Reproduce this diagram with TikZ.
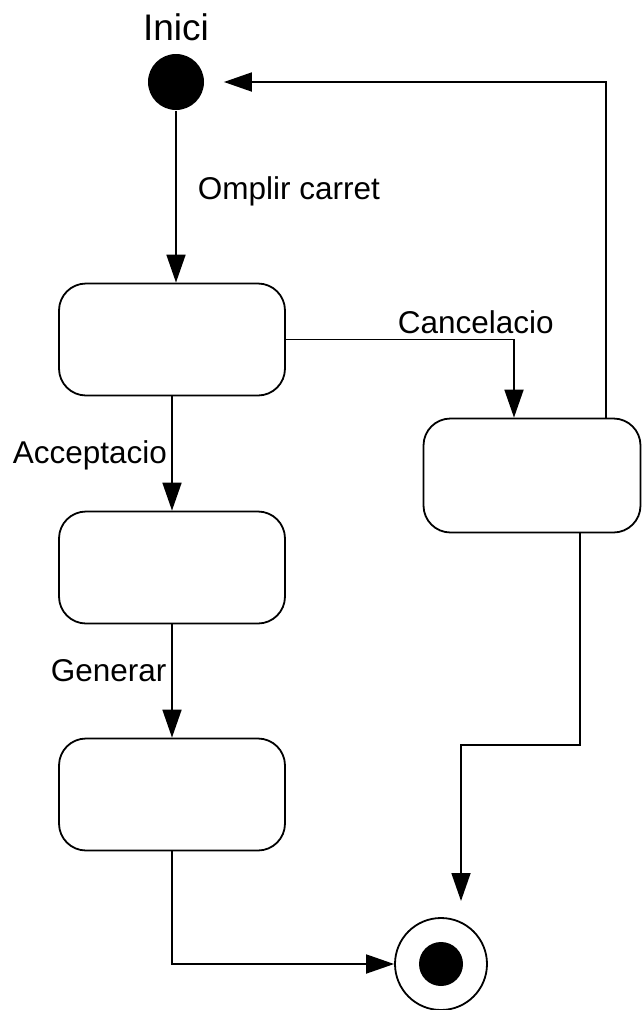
\documentclass[tikz,border=0pt]{standalone}
\usepackage{fontspec}
\setmainfont{Liberation Sans}
\usetikzlibrary{arrows.meta,positioning}

\begin{document}
\begin{tikzpicture}[x=1pt,y=-1pt, line width=1.8pt,
    state/.style={draw, rounded corners=27pt, minimum width=226pt, minimum height=112pt, inner sep=0pt},
    arr/.style={-{Triangle[length=28pt,width=19pt]}},
    lbl/.style={font=\fontsize{31.5}{36}\selectfont, inner sep=0pt, anchor=base west}]
        \useasboundingbox (0,0) rectangle (642,1010);

        % Initial state
        \node[circle, fill, minimum size=56pt, inner sep=0pt] (inici) at (176,82) {};
        \node[inner sep=0pt, anchor=base, font=\fontsize{37}{42}\selectfont] (iniciLbl) at (176,40) {Inici};

        % States
        \node[state] (carret) at (172,339.5) {};
        \node[state] (accept) at (172,567.5) {};
        \node[state] (generar) at (172,794.5) {};
        \node[state, minimum width=217pt, minimum height=114pt] (cancel) at (532,475.5) {};

        % Final state
        \node[circle, draw, minimum size=92pt, inner sep=0pt] (fi) at (441,964) {};
        \node[circle, fill, minimum size=44pt, inner sep=0pt] (fiDot) at (fi) {};

        % Bend points
        \coordinate (cancelTop) at (606,418);
        \coordinate (cancelBot) at (580,533);
        \coordinate (bend) at (461,745);
        \coordinate (fiTip) at (461,901);

        % Transitions
        \draw[arr] (inici) -- (carret.north -| inici);
        \draw[arr] (carret.south) -- (accept.north);
        \draw[arr] (accept.south) -- (generar.north);
        \draw[arr] (carret.east) -| (cancel.north -| 514,0);
        \draw[arr, shorten >=19pt] (cancelTop) |- (inici.east);
        \draw[arr] (generar.south) |- (fi.west);
        \draw[arr] (cancelBot) |- (bend) -- (fiTip);

        % Labels
        \node[lbl] (omplir) at (197,199) {Omplir carret};
        \node[lbl] (cancelacio) at (397,333) {Cancelacio};
        \node[lbl] (acceptacio) at (12,463) {Acceptacio};
        \node[lbl] (generarLbl) at (50,681) {Generar};

    \end{tikzpicture}
\end{document}
